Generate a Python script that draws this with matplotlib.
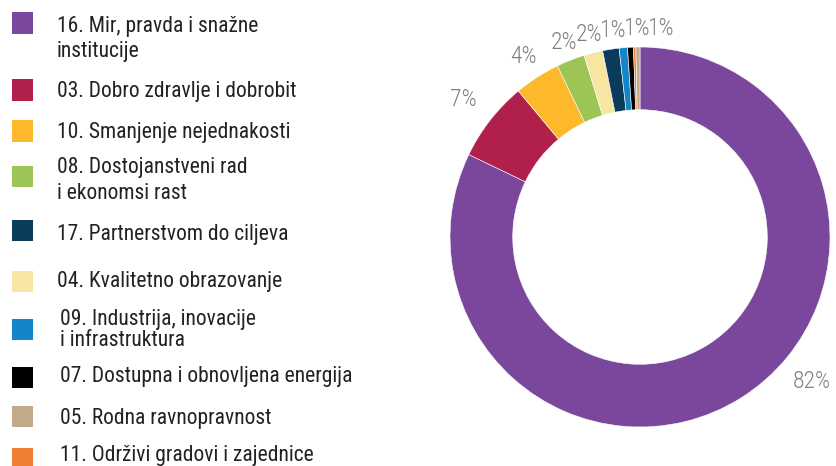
import numpy as np
import matplotlib
matplotlib.use("Agg")
import matplotlib.pyplot as plt
from matplotlib import font_manager as fm

# ---------------- data ----------------
legend_labels = [
    "16. Mir, pravda i snažne\ninstitucije",
    "03. Dobro zdravlje i dobrobit",
    "10. Smanjenje nejednakosti",
    "08. Dostojanstveni rad\ni ekonomsi rast",
    "17. Partnerstvom do ciljeva",
    "04. Kvalitetno obrazovanje",
    "09. Industrija, inovacije\ni infrastruktura",
    "07. Dostupna i obnovljena energija",
    "05. Rodna ravnopravnost",
    "11. Održivi gradovi i zajednice",
]
legend_colors = ["#7B479D", "#B11F4B", "#FDB92B", "#9CC556", "#0B3B5B",
                 "#F6E6A1", "#1385C8", "#000000", "#C3AA8B", "#EF7F30"]
values = [82.1, 6.8, 3.9, 2.4, 1.4, 1.6, 0.7, 0.5, 0.35, 0.2]
# order of slices in the donut (clockwise from 12 o'clock), as legend indices
pie_order = [0, 1, 2, 3, 5, 4, 6, 7, 9, 8]

# ---------------- fonts ----------------
names = {f.name for f in fm.fontManager.ttflist}
main_font = "Roboto"
for cand in ["Roboto Condensed", "Liberation Sans Narrow", "DejaVu Sans Condensed"]:
    if cand in names:
        main_font = cand
        break
plt.rcParams["font.family"] = [main_font, "DejaVu Sans"]

W, H = 837, 466
fig = plt.figure(figsize=(W / 100, H / 100), dpi=100)

# ---------------- donut ----------------
cx, cy, R = 640, 237, 190
half = 200
ax = fig.add_axes([(cx - half) / W, (H - cy - half) / H, 2 * half / W, 2 * half / H])

pv = [values[i] for i in pie_order]
pc = [legend_colors[i] for i in pie_order]
wedges, _ = ax.pie(pv, colors=pc, startangle=90, counterclock=False, radius=1.0,
                   wedgeprops=dict(width=0.33, edgecolor="white", linewidth=0.4))
ax.set_xlim(-half / R, half / R)
ax.set_ylim(-half / R, half / R)
ax.set_aspect("equal")
ax.axis("off")

# labels
total = sum(pv)
pos = []
start = 0.0
for k, v in enumerate(pv):
    span = v / total * 360
    frac = 0.44 if k == 0 else 0.5
    ang = start + frac * span  # clockwise from top, degrees
    start += span
    pct = round(v / total * 100)
    if pct < 1:
        continue
    r = 1.18 if k < 2 else (1.13 if k == 2 else 1.1)
    x = r * np.sin(np.radians(ang))
    y = r * np.cos(np.radians(ang))
    pos.append([x, y, f"{pct}%"])

# spread crowded labels at the top
min_gap = 24 / R
top = [p for p in pos if p[1] > 0.9]
top.sort(key=lambda p: p[0])
for a, b in zip(top[:-1], top[1:]):
    if b[0] - a[0] < min_gap:
        b[0] = a[0] + min_gap
for x, y, t in pos:
    ax.text(x, y, t, ha="center", va="center", fontsize=17, color="#7f7f7f",
            fontweight="light", clip_on=False)

# ---------------- legend ----------------
sq_centers = [23, 90, 131, 176, 230, 281, 329, 377, 416, 458]
baselines = [[32, 57], [97], [138], [173, 199], [240], [287], [325, 346], [382], [424], [461]]
text_x = [57, 57, 57, 57, 57, 57, 60, 60, 60, 60]
sq = 21
for i, lab in enumerate(legend_labels):
    yc = sq_centers[i]
    fig.patches.append(plt.Rectangle((12 / W, (H - yc - sq / 2) / H), sq / W, sq / H,
                                     transform=fig.transFigure, color=legend_colors[i],
                                     linewidth=0))
    for line, bl in zip(lab.split("\n"), baselines[i]):
        fig.text(text_x[i] / W, (H - bl) / H, line, ha="left", va="baseline",
                 fontsize=15.5, color="#222222")

fig.savefig("out.png", dpi=100)
